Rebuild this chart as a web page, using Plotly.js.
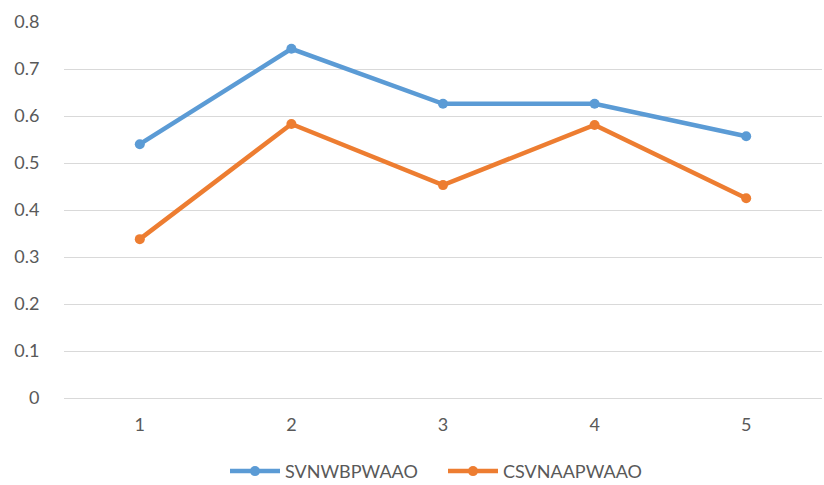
<!DOCTYPE html>
<html>
<head>
<meta charset="utf-8">
<script src="https://cdn.plot.ly/plotly-3.0.1.min.js"></script>
<style>html,body{margin:0;padding:0;background:#fff}#chart{width:824px;height:485px}</style>
</head>
<body>
<div id="chart"></div>
<script>
const categories = [1, 2, 3, 4, 5];
const seriesNames = ["SVNWBPWAAO", "CSVNAAPWAAO"];
const svnwbpwaao = [0.54, 0.743, 0.626, 0.626, 0.557];
const csvnaapwaao = [0.338, 0.583, 0.453, 0.581, 0.425];
const yTicks = [0, 0.1, 0.2, 0.3, 0.4, 0.5, 0.6, 0.7, 0.8];

const colors = ["#5B9BD5", "#ED7D31"];
const traces = [svnwbpwaao, csvnaapwaao].map((vals, i) => ({
  x: categories, y: vals, name: seriesNames[i], type: "scatter", mode: "lines+markers",
  line: {color: colors[i], width: 4.5},
  marker: {color: colors[i], size: 10, symbol: "circle"}
}));

const layout = {
  width: 824, height: 485,
  margin: {l: 64, r: 2, t: 22, b: 87, autoexpand: false},
  paper_bgcolor: "#ffffff", plot_bgcolor: "#ffffff",
  font: {family: "Lato, 'Open Sans', sans-serif", size: 18, color: "#595959"},
  showlegend: true,
  legend: {orientation: "h", x: 0.5, xanchor: "center", y: -0.146, yanchor: "top",
           font: {size: 18, color: "#595959"}, itemwidth: 50, traceorder: "normal",
           entrywidth: 153, entrywidthmode: "pixels"},
  xaxis: {range: [0.5, 5.5], tickvals: categories, ticktext: categories.map(String),
          showgrid: false, zeroline: false, showline: false,
          ticks: "outside", ticklen: 10, tickcolor: "rgba(0,0,0,0)", fixedrange: true},
  yaxis: {range: [0, 0.8], tickvals: yTicks, ticktext: yTicks.map(String),
          showgrid: true, gridcolor: "#d9d9d9", gridwidth: 1,
          zeroline: true, zerolinecolor: "#d9d9d9", zerolinewidth: 1,
          showline: false, ticks: "outside", ticklen: 20, tickcolor: "rgba(0,0,0,0)",
          fixedrange: true}
};

Plotly.newPlot("chart", traces, layout, {displayModeBar: false, staticPlot: true});
</script>
</body>
</html>
